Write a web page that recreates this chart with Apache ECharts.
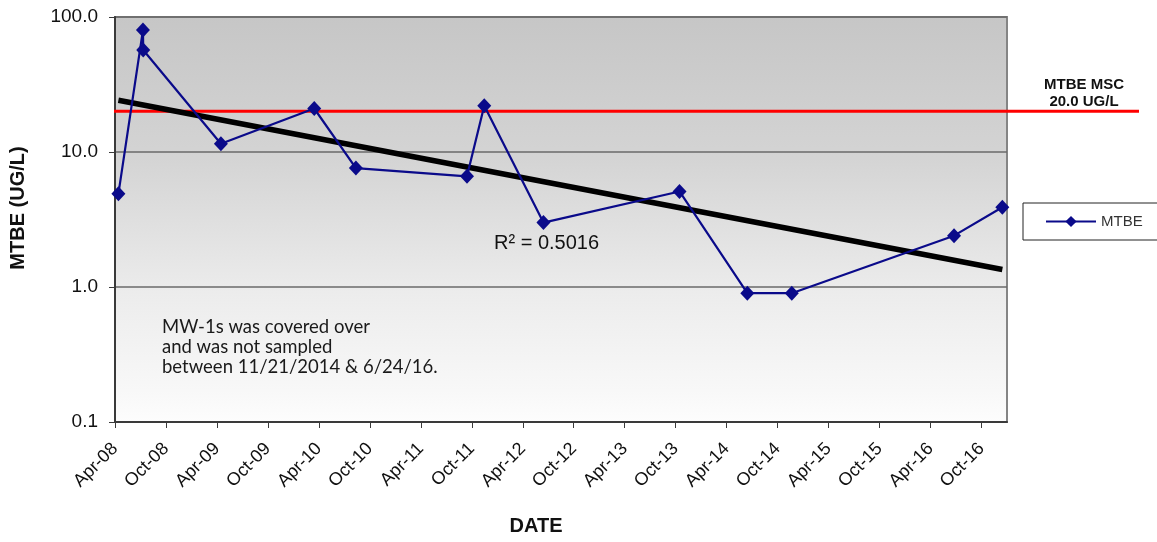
<!DOCTYPE html>
<html>
<head>
<meta charset="utf-8">
<title>MTBE (UG/L) vs DATE</title>
<script src="https://cdn.jsdelivr.net/npm/echarts@6/dist/echarts.min.js"></script>
<style>
  html, body { margin: 0; padding: 0; background: #ffffff; }
  #chart { width: 1157px; height: 542px; }
</style>
</head>
<body>
<div id="chart"></div>
<script>
// Sampling dates and MTBE concentrations (UG/L) for MW-1s
const sampleDates = ['2008-04-13', '2008-07-10', '2008-07-11', '2009-04-15', '2010-03-15', '2010-08-12',
                     '2011-09-14', '2011-11-15', '2012-06-14', '2013-10-15', '2014-06-14', '2014-11-21',
                     '2016-06-24', '2016-12-15'];
const mtbeValues = [4.9, 80, 57, 11.5, 21, 7.6, 6.6, 22, 3.0, 5.1, 0.9, 0.9, 2.4, 3.9];

// Date axis labels, one every six months starting April 2008
const dateTickLabels = ['Apr-08', 'Oct-08', 'Apr-09', 'Oct-09', 'Apr-10', 'Oct-10', 'Apr-11', 'Oct-11', 'Apr-12',
                        'Oct-12', 'Apr-13', 'Oct-13', 'Apr-14', 'Oct-14', 'Apr-15', 'Oct-15', 'Apr-16', 'Oct-16'];
const valueTickLabels = ['0.1', '1.0', '10.0', '100.0'];

// Regulatory limit
const mscLimit = 20.0;
const rSquaredText = 'R² = 0.5016';

// Months elapsed since 1 April 2008 (the axis origin)
const startYear = 2008, startMonth = 4;
function monthsSinceStart(iso) {
  const [y, m, d] = iso.split('-').map(Number);
  const daysInMonth = new Date(y, m, 0).getDate();
  return (y - startYear) * 12 + (m - startMonth) + (d - 1) / daysInMonth;
}
const monthStep = 6;
const axisEndMonths = monthsSinceStart('2017-01-01');

const points = sampleDates.map((d, i) => [monthsSinceStart(d), mtbeValues[i]]);

// Exponential trend line: least squares fit of log10(value) against time
const xs = points.map(p => p[0]);
const ls = points.map(p => Math.log10(p[1]));
const n = xs.length;
const mx = xs.reduce((a, b) => a + b, 0) / n;
const ml = ls.reduce((a, b) => a + b, 0) / n;
let sxy = 0, sxx = 0;
for (let i = 0; i < n; i++) { sxy += (xs[i] - mx) * (ls[i] - ml); sxx += (xs[i] - mx) ** 2; }
const slope = sxy / sxx;
const intercept = ml - slope * mx;
const trendX = [Math.min(...xs), Math.max(...xs)];
const trendData = trendX.map(x => [x, Math.pow(10, intercept + slope * x)]);

const tickValues = dateTickLabels.map((_, i) => i * monthStep);

const chart = echarts.init(document.getElementById('chart'), null, { renderer: 'canvas' });
const baseFont = "'Liberation Sans', Arial, sans-serif";

chart.setOption({
  animation: false,
  backgroundColor: '#ffffff',
  textStyle: { fontFamily: baseFont },
  grid: [
    {
      left: 115, right: 150, top: 17, bottom: 120,
      show: true,
      borderColor: '#858585',
      borderWidth: 2,
      backgroundColor: {
        type: 'linear', x: 0, y: 0, x2: 0, y2: 1,
        colorStops: [
          { offset: 0, color: '#c6c6c6' },
          { offset: 0.35, color: '#d4d4d4' },
          { offset: 0.68, color: '#ececec' },
          { offset: 0.92, color: '#f8f8f8' },
          { offset: 1, color: '#fdfdfd' }
        ]
      }
    },
    // wider band used only for the limit line, which runs past the plot to its label
    { left: 114, right: 18, top: 17, bottom: 120, show: false }
  ],
  xAxis: [
    {
      type: 'value', gridIndex: 0,
      min: 0, max: axisEndMonths, interval: monthStep,
      axisLine: { show: true, lineStyle: { color: '#3a3a3a', width: 2 } },
      axisTick: { show: true, length: 6, inside: false, customValues: tickValues,
                  lineStyle: { color: '#3a3a3a', width: 1 } },
      axisLabel: {
        rotate: 45, margin: 24, fontSize: 18, color: '#111', fontFamily: baseFont,
        customValues: tickValues,
        formatter: v => dateTickLabels[Math.round(v / monthStep)] || ''
      },
      splitLine: { show: false }
    },
    { type: 'value', gridIndex: 1, min: 0, max: 1, show: false }
  ],
  yAxis: [
    {
      type: 'log', logBase: 10, gridIndex: 0,
      min: 0.1, max: 100,
      axisLine: { show: true, lineStyle: { color: '#3a3a3a', width: 2 } },
      axisTick: { show: true, length: 6, inside: false, lineStyle: { color: '#3a3a3a', width: 1 } },
      axisLabel: {
        margin: 17, fontSize: 19, color: '#111', fontFamily: baseFont,
        formatter: v => valueTickLabels[Math.round(Math.log10(v)) + 1]
      },
      splitLine: { show: true, lineStyle: { color: '#6a6a6a', width: 1.5 } },
      minorTick: { show: false },
      minorSplitLine: { show: false }
    },
    { type: 'log', logBase: 10, gridIndex: 1, min: 0.1, max: 100, show: false }
  ],
  legend: {
    left: 1023, top: 203,
    data: ['MTBE'],
    orient: 'vertical',
    backgroundColor: '#ffffff',
    borderColor: '#222', borderWidth: 1, borderRadius: 0,
    padding: [11, 16, 11, 22],
    itemWidth: 50, itemHeight: 14,
    textStyle: { fontSize: 15, color: '#333', fontFamily: baseFont }
  },
  series: [
    {
      name: 'MTBE MSC', type: 'line', xAxisIndex: 1, yAxisIndex: 1,
      data: [[0, mscLimit], [1, mscLimit]],
      symbol: 'none', silent: true, z: 2,
      lineStyle: { color: '#ff0000', width: 3 }
    },
    {
      name: 'Trend', type: 'line', xAxisIndex: 0, yAxisIndex: 0,
      data: trendData,
      symbol: 'none', silent: true, z: 3,
      lineStyle: { color: '#000000', width: 5.5 }
    },
    {
      name: 'MTBE', type: 'line', xAxisIndex: 0, yAxisIndex: 0,
      data: points,
      symbol: 'diamond', symbolSize: [14, 15], z: 4,
      itemStyle: { color: '#0a0a8a' },
      lineStyle: { color: '#0a0a8a', width: 2.2 }
    }
  ],
  graphic: [
    {
      type: 'text', x: 18, y: 208, rotation: Math.PI / 2,
      style: { text: 'MTBE (UG/L)', font: 'bold 20px ' + baseFont, fill: '#111',
               align: 'center', verticalAlign: 'middle' }
    },
    {
      type: 'text', x: 536, y: 526,
      style: { text: 'DATE', font: 'bold 20px ' + baseFont, fill: '#111',
               align: 'center', verticalAlign: 'middle' }
    },
    {
      type: 'text', x: 1084, y: 93,
      style: { text: 'MTBE MSC\n20.0 UG/L', font: 'bold 15px ' + baseFont, fill: '#111',
               align: 'center', verticalAlign: 'middle', lineHeight: 17 }
    },
    {
      type: 'text', x: 494, y: 243,
      style: { text: rSquaredText, font: '20px ' + baseFont, fill: '#111',
               align: 'left', verticalAlign: 'middle' }
    },
    {
      type: 'text', x: 162, y: 347,
      style: { text: 'MW-1s was covered over\nand was not sampled\nbetween 11/21/2014 & 6/24/16.',
               font: '18.5px Lato, sans-serif', fill: '#1a1a1a',
               align: 'left', verticalAlign: 'middle', lineHeight: 20 }
    }
  ]
});
</script>
</body>
</html>
